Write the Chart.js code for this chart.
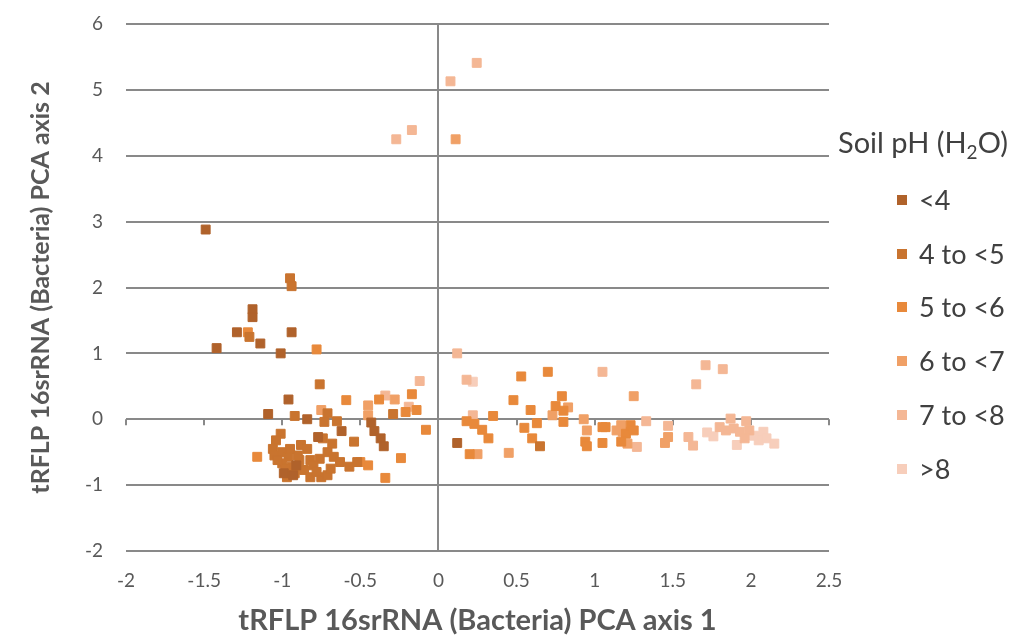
<!DOCTYPE html>
<html><head><meta charset="utf-8">
<script src="https://cdn.jsdelivr.net/npm/chart.js@4/dist/chart.umd.min.js"></script>
<style>
html,body{margin:0;padding:0;background:#fff;}
#wrap{position:relative;width:1014px;height:635px;}
canvas{position:absolute;left:0;top:0;}
#legend{position:absolute;left:0;top:0;font-family:Lato,"Open Sans",sans-serif;color:#404040;}
#legend .title{position:absolute;left:838px;top:124px;font-size:29px;white-space:nowrap;line-height:36px;}
#legend .title sub{font-size:19px;vertical-align:-6px;line-height:0;}
#legend .item{position:absolute;left:897px;height:30px;white-space:nowrap;font-size:27px;line-height:30px;}
#legend .item span.box{position:absolute;left:0;top:10px;width:10px;height:10px;}
#legend .item span.lbl{position:absolute;left:22px;top:0;}
</style>
</head><body>
<div id="wrap"><canvas id="c" width="1014" height="635"></canvas><div id="legend"></div></div>
<script>
// ---- Data ----
const seriesLabels = ["<4", "4 to <5", "5 to <6", "6 to <7", "7 to <8", ">8"];
const seriesColors = ["#b0622b", "#c9742f", "#e8893b", "#f0a066", "#f4b795", "#f7cebb"];

const ph_lt4 = [[-1.49,2.88],[-1.19,1.67],[-1.19,1.55],[-1.29,1.32],[-1.14,1.15],[-0.94,1.32],[-1.42,1.08],[-1.01,1.0],
  [-0.96,0.30],[-1.09,0.08],[-0.84,0.0],[-0.62,-0.18],[-0.43,-0.05],[-0.41,-0.18],[-0.37,-0.29],[-0.35,-0.41],
  [-0.93,-0.85],[-0.77,-0.27],[0.12,-0.36],[-0.99,-0.82],[-0.91,-0.70]];
const ph_4to5 = [[-0.95,2.14],[-0.94,2.02],[-1.21,1.25],[-0.76,0.53],[-0.92,0.05],[-0.73,-0.04],[-0.71,0.09],[-0.65,-0.03],
  [-0.54,-0.34],[-1.01,-0.22],[-1.04,-0.32],[-1.06,-0.45],[-1.05,-0.55],[-1.0,-0.50],[-0.96,-0.57],[-0.94,-0.72],[-1.0,-0.67],
  [-0.88,-0.39],[-0.84,-0.45],[-0.89,-0.62],[-0.86,-0.77],[-0.82,-0.62],[-0.82,-0.88],[-0.75,-0.88],[-0.74,-0.29],[-0.68,-0.37],
  [-0.76,-0.60],[-0.71,-0.50],[-0.67,-0.57],[-0.63,-0.65],[-0.57,-0.72],[-0.52,-0.65],[-0.71,-0.85],[-0.29,0.08],[0.65,-0.41],
  [-0.98,-0.75],[-0.97,-0.88],[-0.90,-0.55],[-0.92,-0.82],[-0.80,-0.70],[-0.78,-0.80],[-0.69,-0.75],[-1.03,-0.62],[-0.95,-0.45]];
const ph_5to6 = [[-1.22,1.32],[-0.78,1.06],[-1.16,-0.57],[-0.59,0.29],[-0.38,0.30],[-0.17,0.38],[-0.21,0.11],[-0.14,0.14],
  [-0.08,-0.16],[-0.24,-0.59],[-0.45,-0.70],[-0.50,-0.65],[-0.34,-0.89],[0.53,0.65],[0.70,0.72],[0.48,0.29],[0.79,0.35],
  [0.75,0.20],[0.80,0.13],[0.59,0.14],[0.35,0.05],[0.18,-0.03],[0.23,-0.07],[0.28,-0.16],[0.32,-0.29],[0.20,-0.53],
  [0.55,-0.13],[0.63,-0.06],[0.60,-0.29],[0.80,-0.04],[1.05,-0.36],[1.07,-0.12],[1.05,-0.12],[0.94,-0.34],[1.20,-0.22],
  [1.23,-0.09],[1.25,-0.17],[1.17,-0.34],[0.95,-0.41]];
const ph_6to7 = [[-0.75,0.14],[-0.45,0.21],[-0.45,0.06],[-0.28,0.30],[0.11,4.25],[0.25,-0.53],[0.45,-0.51],[0.83,0.18],
  [0.73,0.06],[0.93,0.0],[0.95,-0.17],[1.25,0.35],[1.17,-0.09],[1.18,-0.19],[1.21,-0.37],[1.45,-0.36],[1.14,-0.17],[1.47,-0.27]];
const ph_7to8 = [[-0.34,0.36],[-0.19,0.19],[-0.12,0.58],[0.12,1.0],[0.18,0.60],[0.22,0.06],[0.245,5.41],[0.077,5.13],
  [-0.17,4.39],[-0.27,4.25],[1.05,0.72],[1.71,0.82],[1.82,0.76],[1.65,0.53],[1.33,-0.03],[1.47,-0.10],[1.60,-0.27],
  [1.63,-0.40],[1.87,0.01],[1.97,-0.03],[1.80,-0.12],[1.84,-0.17],[1.89,-0.14],[1.93,-0.19],[1.99,-0.17],[1.96,-0.29],[1.27,-0.42]];
const ph_gt8 = [[0.22,0.57],[1.76,-0.26],[1.91,-0.39],[2.08,-0.19],[2.05,-0.32],[2.10,-0.29],[2.15,-0.37],[2.02,-0.25],[1.72,-0.20]];

const seriesData = [ph_lt4, ph_4to5, ph_5to6, ph_6to7, ph_7to8, ph_gt8];
const xTitle = "tRFLP 16srRNA (Bacteria) PCA axis 1";
const yTitle = "tRFLP 16srRNA (Bacteria) PCA axis 2";

// ---- Chart ----
const FONT = 'Lato, "Open Sans", sans-serif';
const GRID = '#898989';

const zeroTicks = {
  id: 'zeroTicks',
  beforeDatasetsDraw(chart) {
    const {ctx, scales: {x, y}} = chart;
    const y0 = y.getPixelForValue(0);
    ctx.save();
    ctx.strokeStyle = GRID; ctx.lineWidth = 2;
    for (let v = -2; v <= 2.5001; v += 0.5) {
      const px = Math.round(x.getPixelForValue(v));
      ctx.beginPath(); ctx.moveTo(px, y0); ctx.lineTo(px, y0 + 6); ctx.stroke();
    }
    ctx.restore();
  }
};

const chart = new Chart(document.getElementById('c'), {
  type: 'scatter',
  data: {
    datasets: seriesData.map((d, i) => ({
      label: seriesLabels[i],
      data: d.map(p => ({x: p[0], y: p[1]})),
      backgroundColor: seriesColors[i],
      borderColor: seriesColors[i],
      borderWidth: 1,
      pointStyle: 'rect',
      pointRadius: 6.3,
      pointHoverRadius: 6.3
    }))
  },
  options: {
    responsive: false,
    animation: false,
    events: [],
    layout: {padding: {left: 0, right: 185, top: 24, bottom: 0}},
    plugins: {legend: {display: false}, tooltip: {enabled: false}},
    scales: {
      x: {
        type: 'linear', min: -2, max: 2.5,
        border: {display: false},
        grid: {
          drawTicks: true, tickLength: 18, tickColor: 'rgba(0,0,0,0)',
          lineWidth: 2,
          color: ctx => (ctx.tick && ctx.tick.value === 0) ? GRID : 'rgba(0,0,0,0)'
        },
        ticks: {stepSize: 0.5, color: '#595959', font: {family: FONT, size: 19}, padding: 0, maxRotation: 0,
          callback: v => String(v)},
        title: {display: true, text: xTitle, color: '#595959', font: {family: FONT, size: 29, weight: 'bold', lineHeight: 1}, padding: {top: 0, bottom: 0}},
        afterFit: s => { s.height = 84; }
      },
      y: {
        type: 'linear', min: -2, max: 6,
        border: {display: false},
        grid: {drawTicks: true, tickLength: 23, tickColor: 'rgba(0,0,0,0)', lineWidth: 2, color: GRID},
        ticks: {stepSize: 1, color: '#595959', font: {family: FONT, size: 19}, padding: 0},
        title: {display: true, text: yTitle, color: '#595959', font: {family: FONT, size: 25, weight: 'bold', lineHeight: 1}, padding: {top: 28, bottom: 0}},
        afterFit: s => { s.width = 126; }
      }
    }
  },
  plugins: [zeroTicks]
});

// ---- HTML legend built from the chart's datasets ----
const leg = document.getElementById('legend');
const t = document.createElement('div');
t.className = 'title';
t.innerHTML = 'Soil pH (H<sub>2</sub>O)';
leg.appendChild(t);
const rowCenters0 = 200, rowStep = 53.7;
chart.data.datasets.forEach((ds, i) => {
  const it = document.createElement('div');
  it.className = 'item';
  it.style.top = (rowCenters0 + i * rowStep - 15) + 'px';
  const b = document.createElement('span'); b.className = 'box'; b.style.background = ds.backgroundColor;
  const l = document.createElement('span'); l.className = 'lbl'; l.textContent = ds.label;
  it.appendChild(b); it.appendChild(l);
  leg.appendChild(it);
});
</script>
</body></html>
